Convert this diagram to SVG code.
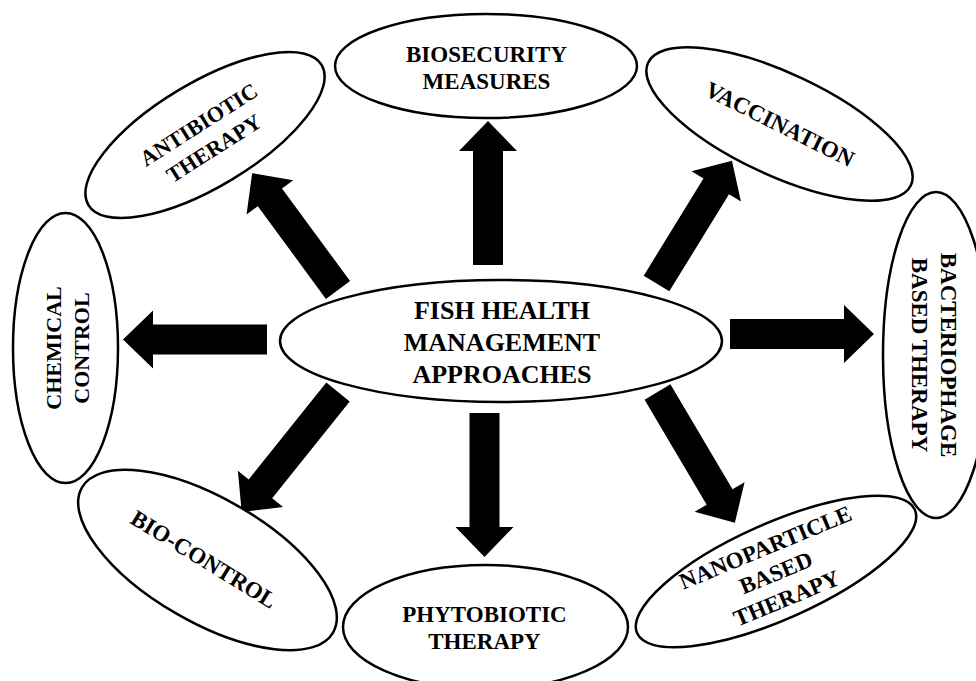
<svg xmlns="http://www.w3.org/2000/svg" xmlns:xlink="http://www.w3.org/1999/xlink" width="976" height="681" viewBox="0 0 976 681">
  <style>
    .node ellipse { fill: #ffffff; stroke: #000000; stroke-width: 2.5; }
    text { font-family: 'Liberation Serif', 'Times New Roman', serif; font-weight: bold; font-size: 23px; fill: #000000; text-anchor: middle; }
    text.sm { font-size: 22px; }
    text.lg { font-size: 26px; }
    .arrow { fill: #000000; stroke: none; }
  </style>
  <defs>
    <path id="arr144" d="M0,-15 L114,-15 L114,-29 L144,0 L114,29 L114,15 L0,15 Z"/>
    <path id="arr145" d="M0,-15 L115,-15 L115,-29 L145,0 L115,29 L115,15 L0,15 Z"/>
    <path id="arr152" d="M0,-15 L122,-15 L122,-29 L152,0 L122,29 L122,15 L0,15 Z"/>
    <path id="arr154" d="M0,-15 L124,-15 L124,-29 L154,0 L124,29 L124,15 L0,15 Z"/>
  </defs>
  <rect x="0" y="0" width="976" height="681" fill="#ffffff"/>

  <g id="connectors">
    <use class="arrow" xlink:href="#arr144" transform="translate(488,265) rotate(-90)"/>
    <use class="arrow" xlink:href="#arr144" transform="translate(484.5,413) rotate(90)"/>
    <use class="arrow" xlink:href="#arr144" transform="translate(267,339.5) rotate(180)"/>
    <use class="arrow" xlink:href="#arr144" transform="translate(730,334)"/>
    <use class="arrow" xlink:href="#arr145" transform="translate(338,290) rotate(-126.3)"/>
    <use class="arrow" xlink:href="#arr144" transform="translate(656.5,283.5) rotate(-58.4)"/>
    <use class="arrow" xlink:href="#arr154" transform="translate(338,392) rotate(128.7)"/>
    <use class="arrow" xlink:href="#arr152" transform="translate(657.5,392) rotate(59.4)"/>
  </g>

  <g id="center" class="node">
    <ellipse cx="501" cy="341" rx="221" ry="61"/>
    <text class="lg" x="502" y="319">FISH HEALTH</text>
    <text class="lg" x="502" y="351">MANAGEMENT</text>
    <text class="lg" x="502" y="383">APPROACHES</text>
  </g>

  <g id="biosecurity" class="node">
    <ellipse cx="486" cy="66" rx="151" ry="52"/>
    <text x="486.5" y="62">BIOSECURITY</text>
    <text x="486.5" y="89">MEASURES</text>
  </g>

  <g id="antibiotic" class="node">
    <ellipse cx="0" cy="0" rx="136" ry="52" transform="translate(205,135) rotate(-31)"/>
    <g transform="translate(206,136) rotate(-32.5)">
      <text class="sm" x="0" y="-6">ANTIBIOTIC</text>
      <text class="sm" x="0" y="22">THERAPY</text>
    </g>
  </g>

  <g id="vaccination" class="node">
    <ellipse cx="0" cy="0" rx="145" ry="51" transform="translate(779.5,124) rotate(25)"/>
    <text x="0" y="8" transform="translate(780,124) rotate(26.5)">VACCINATION</text>
  </g>

  <g id="chemical" class="node">
    <ellipse cx="65.5" cy="348" rx="52.5" ry="135"/>
    <g transform="translate(65.5,348) rotate(-90)">
      <text class="sm" x="0" y="-4.5">CHEMICAL</text>
      <text class="sm" x="0" y="23.5">CONTROL</text>
    </g>
  </g>

  <g id="bacteriophage" class="node">
    <ellipse cx="936" cy="355" rx="53" ry="163"/>
    <g transform="translate(936,355) rotate(90)">
      <text x="0" y="-5">BACTERIOPHAGE</text>
      <text x="0" y="24">BASED THERAPY</text>
    </g>
  </g>

  <g id="biocontrol" class="node">
    <ellipse cx="0" cy="0" rx="145" ry="62" transform="translate(207.5,560) rotate(30)"/>
    <text x="0" y="8" transform="translate(204,559) rotate(31.5)">BIO-CONTROL</text>
  </g>

  <g id="phytobiotic" class="node">
    <ellipse cx="485.5" cy="627" rx="142.5" ry="62"/>
    <text x="484.5" y="622">PHYTOBIOTIC</text>
    <text x="484.5" y="649">THERAPY</text>
  </g>

  <g id="nanoparticle" class="node">
    <ellipse cx="0" cy="0" rx="152" ry="48" transform="translate(776,571.5) rotate(-24)"/>
    <g transform="translate(776,573) rotate(-22.5)">
      <text x="0" y="-20">NANOPARTICLE</text>
      <text x="0" y="7.5">BASED</text>
      <text x="0" y="35">THERAPY</text>
    </g>
  </g>
</svg>
